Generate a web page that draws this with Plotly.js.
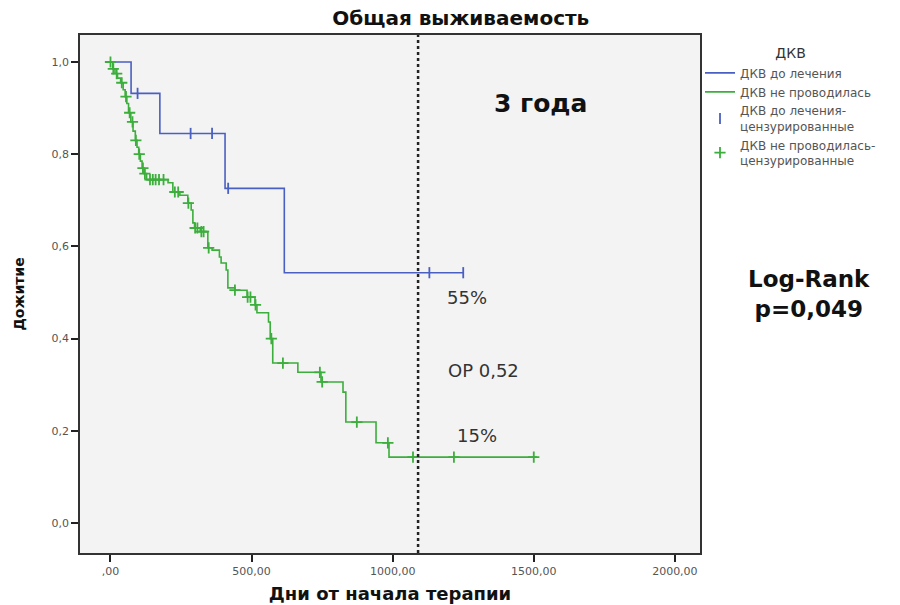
<!DOCTYPE html>
<html>
<head>
<meta charset="utf-8">
<script src="https://cdn.plot.ly/plotly-3.0.1.min.js"></script>
<style>html,body{margin:0;padding:0;background:#fff;}#chart{width:900px;height:605px;}</style>
</head>
<body>
<div id="chart"></div>
<script>
// Blue group: ДКВ до лечения (step times in days, survival after each step)
const blueTimes = [0, 73, 175, 406, 616, 1250];
const blueSurv  = [1.0, 0.932, 0.845, 0.726, 0.543, 0.543];
const blueCensor = [96, 284, 360, 417, 1130, 1250];

// Green group: ДКВ не проводилась
const greenTimes = [0, 8, 16, 25, 36, 45, 52, 58, 64, 72, 80, 88, 94, 100, 106, 112, 119, 128,
  204, 221, 246, 274, 286, 292, 298, 318, 345, 360, 386, 392, 410, 416, 441, 484, 512, 519,
  560, 566, 575, 664, 746, 824, 834, 941, 987, 1511];
const greenSurv = [1.0, 0.985, 0.975, 0.965, 0.955, 0.94, 0.925, 0.91, 0.89, 0.87, 0.85, 0.83, 0.815, 0.80, 0.785, 0.77, 0.758, 0.745,
  0.738, 0.718, 0.711, 0.694, 0.679, 0.651, 0.64, 0.632, 0.597, 0.592, 0.577, 0.564, 0.549, 0.51, 0.505, 0.49, 0.473, 0.456,
  0.436, 0.40, 0.347, 0.327, 0.306, 0.284, 0.219, 0.174, 0.143, 0.143];
const greenCensor = [0, 10, 22, 40, 55, 68, 78, 90, 102, 115, 122, 140, 150, 160, 172, 188, 228, 240, 276,
  300, 308, 322, 330, 348, 441, 486, 496, 514, 570, 611, 742, 750, 873, 983, 1072, 1217, 1500];

const xTickVals = [0, 500, 1000, 1500, 2000];
const xTickText = [",00", "500,00", "1000,00", "1500,00", "2000,00"];
const yTickVals = [0, 0.2, 0.4, 0.6, 0.8, 1.0];
const yTickText = ["0,0", "0,2", "0,4", "0,6", "0,8", "1,0"];

const seriesNames = ["ДКВ до лечения", "ДКВ не проводилась",
  "ДКВ до лечения-<br>цензурированные", "ДКВ не проводилась-<br>цензурированные"];
const markerDay = 1090; // 3 года

function survAt(times, surv, t) {
  let s = surv[0];
  for (let i = 0; i < times.length; i++) { if (times[i] <= t) s = surv[i]; }
  return s;
}

const BLUE = '#4a5fc2';
const GREEN = '#3cae3c';
const WIDE = 'DejaVu Sans, Liberation Sans, sans-serif';

const traces = [
  {x: blueTimes, y: blueSurv, type: 'scatter', mode: 'lines', line: {shape: 'hv', color: BLUE, width: 1.6},
   name: seriesNames[0]},
  {x: greenTimes, y: greenSurv, type: 'scatter', mode: 'lines', line: {shape: 'hv', color: GREEN, width: 1.6},
   name: seriesNames[1]},
  {x: blueCensor, y: blueCensor.map(t => survAt(blueTimes, blueSurv, t)), type: 'scatter', mode: 'markers',
   marker: {symbol: 'line-ns-open', size: 8, color: BLUE, line: {color: BLUE, width: 1.8}}, name: seriesNames[2]},
  {x: greenCensor, y: greenCensor.map(t => survAt(greenTimes, greenSurv, t)), type: 'scatter', mode: 'markers',
   marker: {symbol: 'cross-thin-open', size: 8, color: GREEN, line: {color: GREEN, width: 1.8}}, name: seriesNames[3]}
];

const layout = {
  width: 900, height: 605,
  margin: {l: 80, r: 200, t: 35, b: 52},
  paper_bgcolor: '#ffffff',
  plot_bgcolor: '#f3f3f3',
  font: {family: WIDE, color: '#333', size: 11},
  title: {text: '<b>Общая выживаемость</b>', x: 0.512, xref: 'container', xanchor: 'center',
          y: 0.97, yref: 'container', yanchor: 'middle', font: {size: 20, color: '#111', family: WIDE}},
  xaxis: {range: [-108, 2089], tickvals: xTickVals, ticktext: xTickText, ticks: 'outside', ticklen: 7,
          tickwidth: 2, tickcolor: '#222', showgrid: false, zeroline: false, showline: true, mirror: true,
          linecolor: '#333', linewidth: 1.5, tickfont: {size: 11, color: '#555', family: WIDE},
          title: {text: '<b>Дни от начала терапии</b>', font: {size: 18, color: '#111', family: WIDE}, standoff: 10}},
  yaxis: {range: [-0.065, 1.0586], tickvals: yTickVals, ticktext: yTickText, ticks: 'outside', ticklen: 7,
          tickwidth: 2, tickcolor: '#222', showgrid: false, zeroline: false, showline: true, mirror: true,
          linecolor: '#333', linewidth: 1.5, tickfont: {size: 11, color: '#555', family: WIDE},
          title: {text: '<b>Дожитие</b>', font: {size: 14, color: '#111', family: WIDE}, standoff: 24}},
  legend: {x: 1.0, xanchor: 'left', y: 0.99, yanchor: 'top', bgcolor: 'rgba(0,0,0,0)',
           font: {size: 12, color: '#555', family: WIDE}, tracegroupgap: 0, itemwidth: 30,
           title: {text: 'ДКВ', side: 'top center', font: {size: 14, color: '#333', family: WIDE}}},
  shapes: [
    {type: 'line', xref: 'x', yref: 'paper', x0: markerDay, x1: markerDay, y0: 0, y1: 1,
     line: {color: '#222', width: 2.5, dash: 'dot'}}
  ],
  annotations: [
    {xref: 'x', yref: 'y', x: 1525, y: 0.91, text: '<b>3 года</b>', showarrow: false, font: {size: 25, color: '#111', family: WIDE}},
    {xref: 'x', yref: 'y', x: 1263, y: 0.49, text: '55%', showarrow: false, font: {size: 18, color: '#333', family: WIDE}},
    {xref: 'x', yref: 'y', x: 1323, y: 0.33, text: 'ОР 0,52', showarrow: false, font: {size: 18, color: '#333', family: WIDE}},
    {xref: 'x', yref: 'y', x: 1300, y: 0.19, text: '15%', showarrow: false, font: {size: 18, color: '#333', family: WIDE}},
    {xref: 'paper', yref: 'paper', x: 1.176, y: 0.50, xanchor: 'center', text: '<b>Log-Rank<br>p=0,049</b>',
     showarrow: false, font: {size: 23, color: '#111', family: WIDE}}
  ]
};

Plotly.newPlot('chart', traces, layout, {displayModeBar: false, responsive: false});
</script>
</body>
</html>
